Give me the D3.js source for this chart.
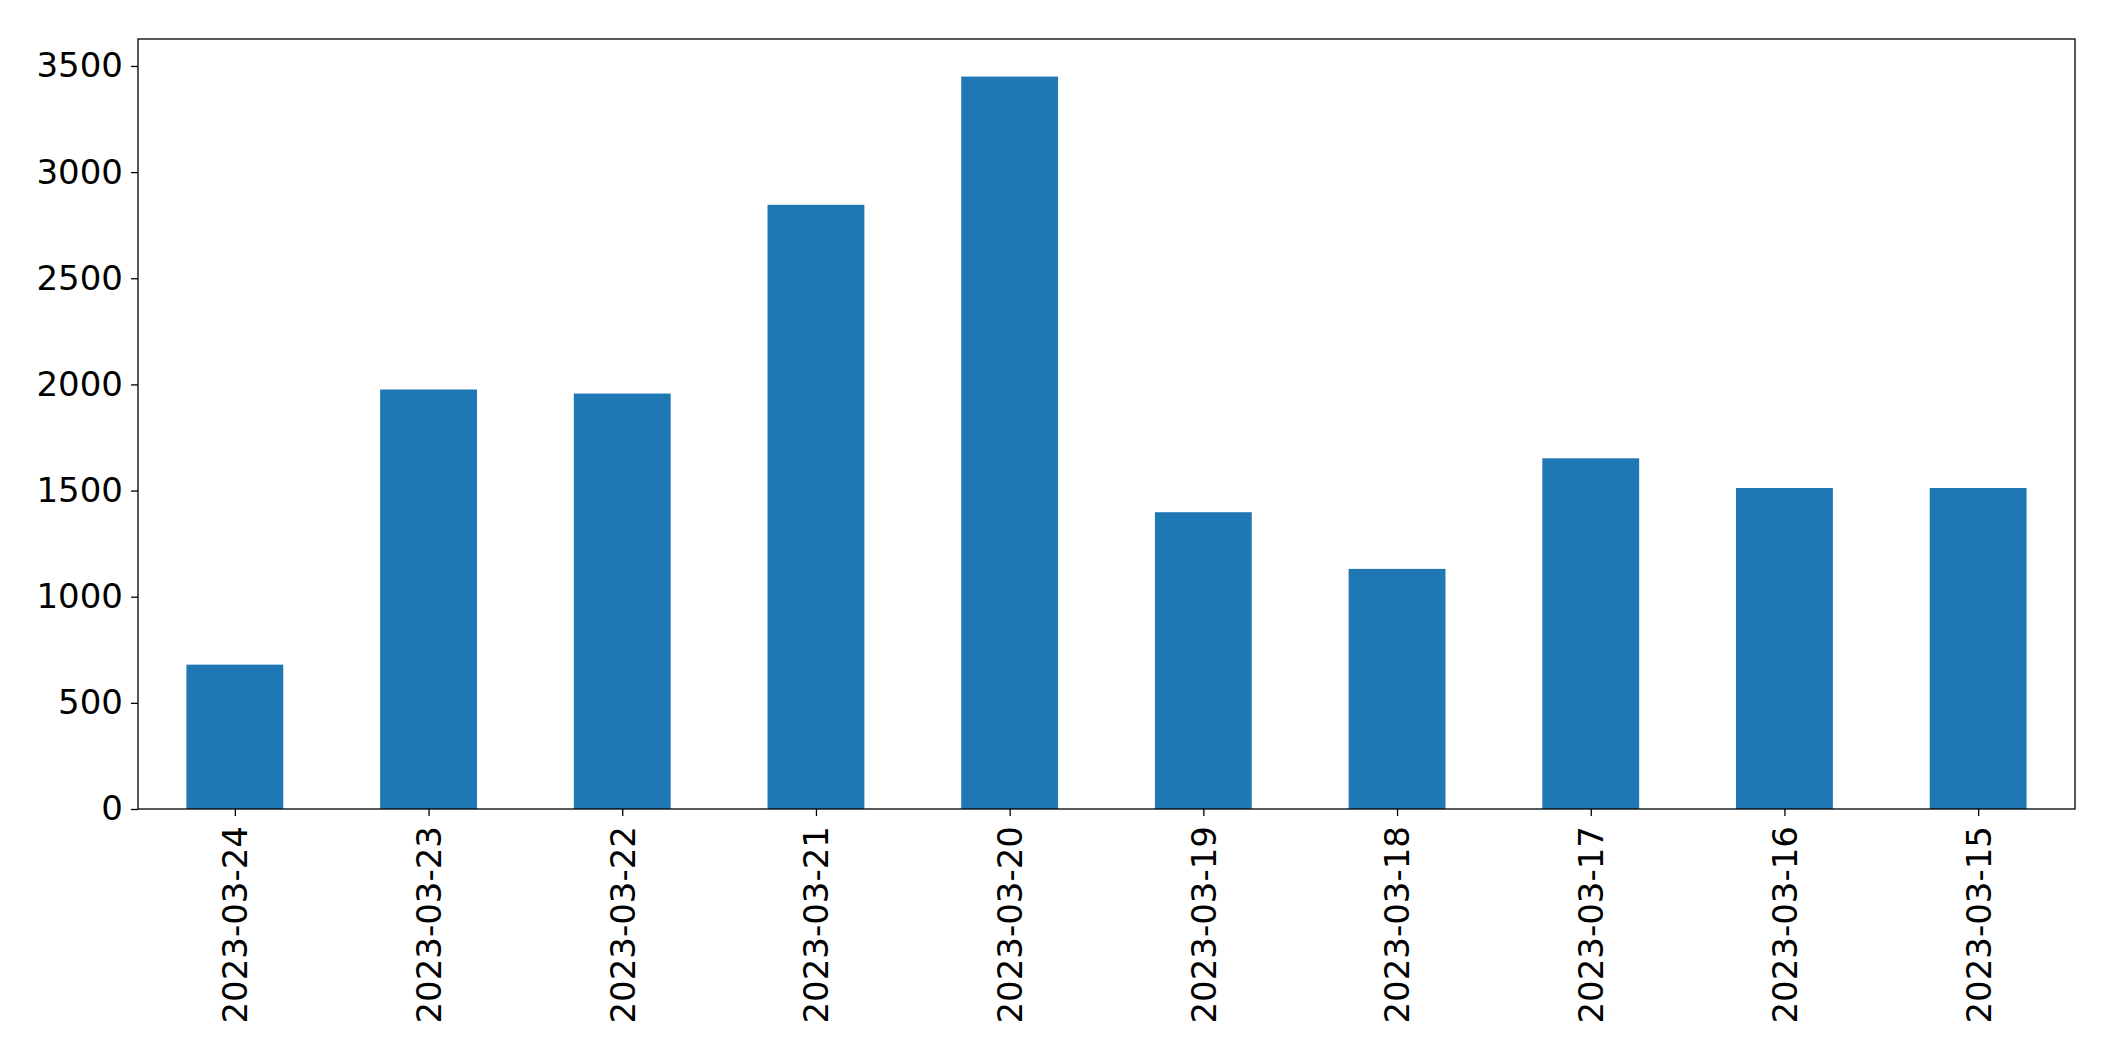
<!DOCTYPE html>
<html><head><meta charset="utf-8">
<script src="https://cdn.jsdelivr.net/npm/d3@7"></script>
<style>body{margin:0;background:#fff}</style></head>
<body><svg id="c" width="2115" height="1061"></svg>
<script>
const categories = ["2023-03-24","2023-03-23","2023-03-22","2023-03-21","2023-03-20","2023-03-19","2023-03-18","2023-03-17","2023-03-16","2023-03-15"];
const values = [680,1976,1957,2846,3450,1398,1131,1652,1512,1512];
const yTicks = [0,500,1000,1500,2000,2500,3000,3500];

const L=138,R=2075,T=39,B=809;
const svg=d3.select("#c");
const x=d3.scaleLinear().domain([-0.5,categories.length-0.5]).range([L,R]);
const y=d3.scaleLinear().domain([0,3627]).range([B,T]);
const font="'DejaVu Sans', sans-serif";
const bw=x(0.25)-x(0);
svg.selectAll("rect.bar").data(values).join("rect").attr("class","bar")
 .attr("x",(d,i)=>x(i)-bw).attr("width",bw*2)
 .attr("y",d=>y(d)).attr("height",d=>B-y(d)).attr("fill","#1f77b4");
const ya=svg.append("g").attr("transform",`translate(${L},0)`)
 .call(d3.axisLeft(y).tickValues(yTicks).tickSize(7).tickPadding(8).tickFormat(d3.format("d")));
const xa=svg.append("g").attr("transform",`translate(0,${B})`)
 .call(d3.axisBottom(x).tickValues(d3.range(categories.length)).tickSize(7).tickPadding(10).tickFormat(i=>categories[i]));
xa.selectAll("text").attr("transform","rotate(-90)").attr("text-anchor","end").attr("x",-17).attr("y",0).attr("dy","0.35em");
[ya,xa].forEach(a=>{a.select(".domain").remove();a.selectAll("text").attr("font-family",font).attr("font-size",34).attr("fill","#000");a.selectAll("line").attr("stroke","#000").attr("stroke-width",1.3);});
svg.append("rect").attr("x",L).attr("y",T).attr("width",R-L).attr("height",B-T).attr("fill","none").attr("stroke","#000").attr("stroke-width",1.3);
</script></body></html>
